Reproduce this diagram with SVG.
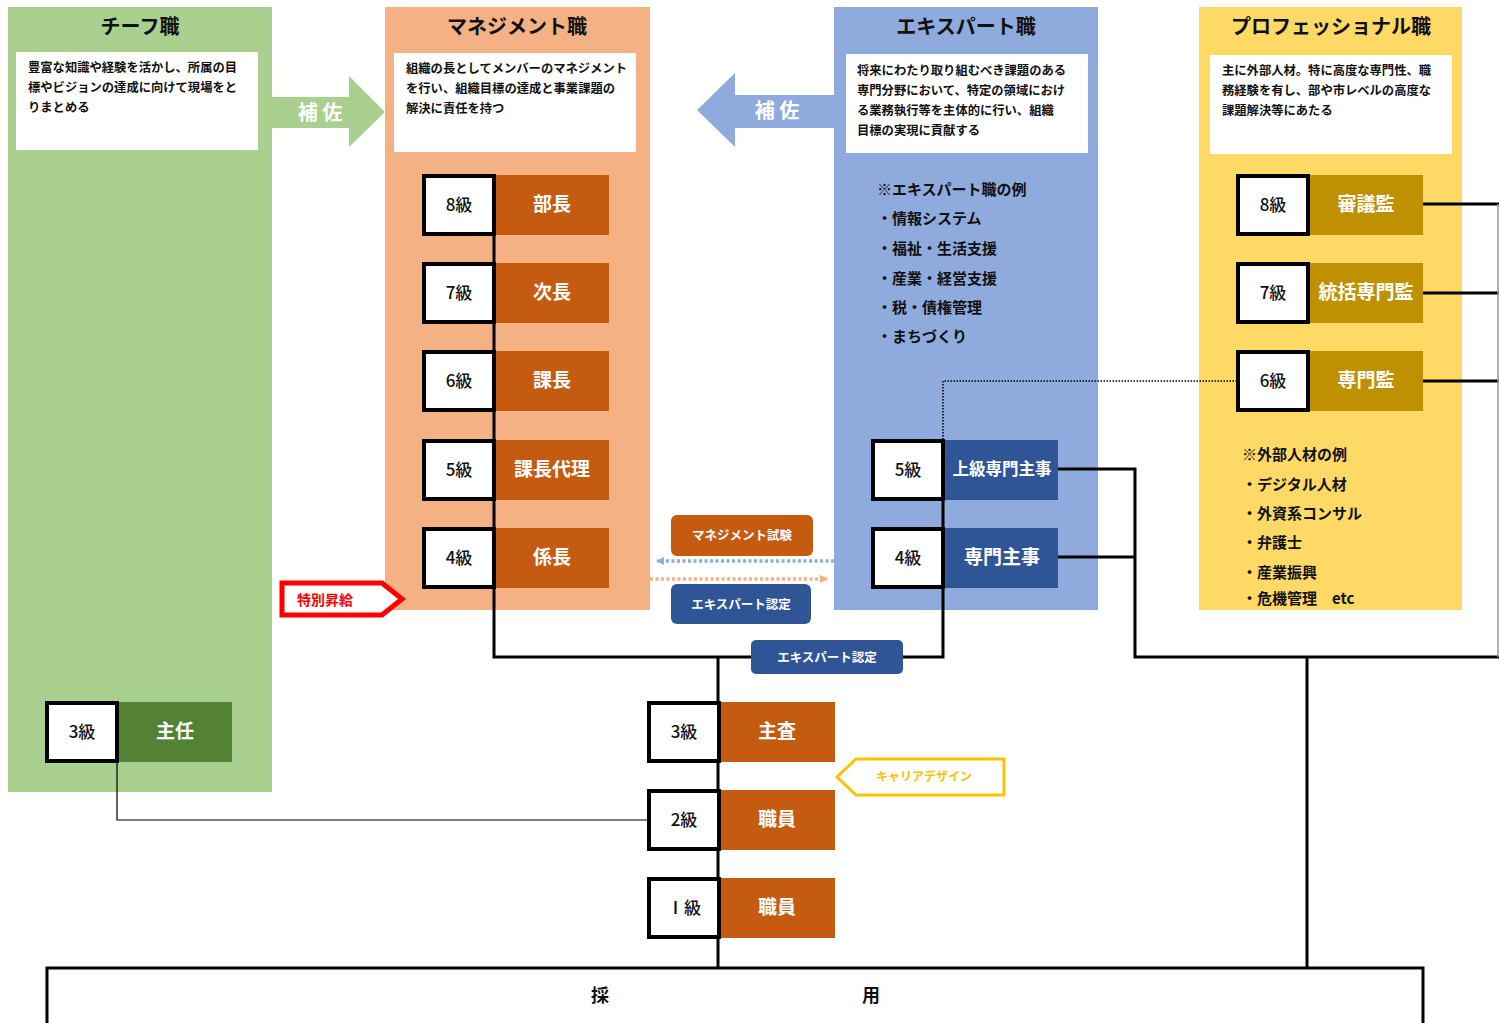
<svg xmlns="http://www.w3.org/2000/svg" width="1499" height="1023" viewBox="0 0 1499 1023">
<defs>
<style>
text{font-family:"Noto Sans CJK JP","Noto Sans",sans-serif;font-weight:bold}
.title{font-size:20px;fill:#111;text-anchor:middle}
.desc{font-size:12.3px;fill:#111}
.list{font-size:15px;fill:#111}
.lv{fill:#fff;stroke:#000;stroke-width:4}
.lvt{font-size:17px;fill:#111;text-anchor:middle;font-weight:500}
.rt{font-size:19px;fill:#fff;text-anchor:middle}
.ln{fill:none;stroke:#000;stroke-width:3}
.thin{fill:none;stroke:#000;stroke-width:1.2}
.tag{font-size:12.5px;fill:#fff;text-anchor:middle}
</style>
<marker id="arrB" markerWidth="8" markerHeight="8" refX="7" refY="4" orient="auto" markerUnits="userSpaceOnUse"><path d="M0,0 L8,4 L0,8 z" fill="#8faadc"/></marker>
<marker id="arrO" markerWidth="8" markerHeight="8" refX="7" refY="4" orient="auto" markerUnits="userSpaceOnUse"><path d="M0,0 L8,4 L0,8 z" fill="#f4b183"/></marker>
</defs>
<rect width="1499" height="1023" fill="#fff"/>

<g id="chief">
<rect x="8" y="7" width="264" height="785" fill="#a9d08e"/>
<text class="title" x="140" y="34">チーフ職</text>
<rect x="16" y="52" width="242" height="98" fill="#fff"/>
<text class="desc" x="28" y="72">豊富な知識や経験を活かし、所属の目</text>
<text class="desc" x="28" y="92">標やビジョンの達成に向けて現場をと</text>
<text class="desc" x="28" y="112">りまとめる</text>
</g>

<g id="management">
<rect x="385" y="7" width="265" height="603" fill="#f4b183"/>
<text class="title" x="517" y="34">マネジメント職</text>
<rect x="394" y="53" width="242" height="99" fill="#fff"/>
<text class="desc" x="406" y="73">組織の長としてメンバーのマネジメント</text>
<text class="desc" x="406" y="93">を行い、組織目標の達成と事業課題の</text>
<text class="desc" x="406" y="113">解決に責任を持つ</text>
</g>

<g id="expert">
<rect x="834" y="7" width="264" height="603" fill="#8faadc"/>
<text class="title" x="966" y="34">エキスパート職</text>
<rect x="846" y="54" width="242" height="99" fill="#fff"/>
<text class="desc" x="857" y="75">将来にわたり取り組むべき課題のある</text>
<text class="desc" x="857" y="95">専門分野において、特定の領域におけ</text>
<text class="desc" x="857" y="115">る業務執行等を主体的に行い、組織</text>
<text class="desc" x="857" y="135">目標の実現に貢献する</text>
<text class="list" x="877" y="195">※エキスパート職の例</text>
<text class="list" x="877" y="224">・情報システム</text>
<text class="list" x="877" y="254">・福祉・生活支援</text>
<text class="list" x="877" y="284">・産業・経営支援</text>
<text class="list" x="877" y="313">・税・債権管理</text>
<text class="list" x="877" y="342">・まちづくり</text>
</g>

<g id="professional">
<rect x="1199" y="7" width="263" height="603" fill="#ffd966"/>
<text class="title" x="1331" y="34">プロフェッショナル職</text>
<rect x="1210" y="55" width="242" height="99" fill="#fff"/>
<text class="desc" x="1222" y="75">主に外部人材。特に高度な専門性、職</text>
<text class="desc" x="1222" y="95">務経験を有し、部や市レベルの高度な</text>
<text class="desc" x="1222" y="115">課題解決等にあたる</text>
<text class="list" x="1242" y="460">※外部人材の例</text>
<text class="list" x="1242" y="490">・デジタル人材</text>
<text class="list" x="1242" y="519">・外資系コンサル</text>
<text class="list" x="1242" y="548">・弁護士</text>
<text class="list" x="1242" y="578">・産業振興</text>
<text class="list" x="1242" y="604">・危機管理　etc</text>
</g>

<g id="connectors">
<path d="M272,97 H349 V76 L385,112 L349,147 V128 H272 Z" fill="#a9d08e"/>
<text x="320" y="120" font-size="20" fill="#fff" text-anchor="middle">補 佐</text>
<path d="M834,95 H735 V73 L697,110 L735,147 V128 H834 Z" fill="#8faadc"/>
<text x="777" y="118" font-size="20" fill="#fff" text-anchor="middle">補 佐</text>
<path class="ln" d="M494,205 V657 H943 V470"/>
<path class="ln" d="M1058,469 H1135 V657 H1499"/>
<path class="ln" d="M1058,557 H1135"/>
<path class="ln" d="M1423,204 H1499 M1423,293 H1499 M1423,381 H1499"/>
<path d="M1498,204 V657" stroke="#999" stroke-width="1.5" fill="none"/>
<path class="ln" d="M1307,657 V967"/>
<path class="ln" d="M718,657 V967"/>
<path d="M1237,381 H943 V440" fill="none" stroke="#000" stroke-width="1.5" stroke-dasharray="1.5,1.5"/>
<path class="thin" d="M117,762 V820 H648"/>
<path d="M834,561 H657" fill="none" stroke="#8faadc" stroke-width="3.5" stroke-dasharray="3,2.5" marker-end="url(#arrB)"/>
<path d="M650,579 H827" fill="none" stroke="#f4b183" stroke-width="3.5" stroke-dasharray="3,2.5" marker-end="url(#arrO)"/>
<rect x="671" y="515" width="142" height="41" rx="6" fill="#c55a11"/>
<text class="tag" x="742" y="540">マネジメント試験</text>
<rect x="671" y="584" width="140" height="40" rx="6" fill="#2f5597"/>
<text class="tag" x="741" y="609">エキスパート認定</text>
<rect x="751" y="640" width="152" height="34" rx="5" fill="#2f5597"/>
<text class="tag" x="827" y="662">エキスパート認定</text>
<path d="M282,583 H382 L402,599 L382,615 H282 Z" fill="#fff" stroke="#ff0000" stroke-width="5"/>
<text x="325" y="605" font-size="14" fill="#ff0000" text-anchor="middle">特別昇給</text>
<path d="M1004,759 H856 L837,777 L856,795 H1004 Z" fill="#fff" stroke="#ffc000" stroke-width="3"/>
<text x="924" y="781" font-size="12" fill="#ffc000" text-anchor="middle">キャリアデザイン</text>
</g>

<g id="m8"><rect class="lv" x="424" y="176" width="70" height="58"/><text class="lvt" x="459" y="211">8級</text><rect x="496" y="175" width="113" height="60" fill="#c55a11"/><text class="rt" x="552" y="211">部長</text></g>
<g id="m7"><rect class="lv" x="424" y="264" width="70" height="58"/><text class="lvt" x="459" y="299">7級</text><rect x="496" y="263" width="113" height="60" fill="#c55a11"/><text class="rt" x="552" y="299">次長</text></g>
<g id="m6"><rect class="lv" x="424" y="352" width="70" height="58"/><text class="lvt" x="459" y="387">6級</text><rect x="496" y="351" width="113" height="60" fill="#c55a11"/><text class="rt" x="552" y="387">課長</text></g>
<g id="m5"><rect class="lv" x="424" y="441" width="70" height="58"/><text class="lvt" x="459" y="476">5級</text><rect x="496" y="440" width="113" height="60" fill="#c55a11"/><text class="rt" x="552" y="476">課長代理</text></g>
<g id="m4"><rect class="lv" x="424" y="529" width="70" height="58"/><text class="lvt" x="459" y="564">4級</text><rect x="496" y="528" width="113" height="60" fill="#c55a11"/><text class="rt" x="552" y="564">係長</text></g>

<g id="e5"><rect class="lv" x="873" y="441" width="70" height="58"/><text class="lvt" x="908" y="476">5級</text><rect x="945" y="440" width="113" height="60" fill="#2f5597"/><text class="rt" x="1002" y="475" style="font-size:16.5px">上級専門主事</text></g>
<g id="e4"><rect class="lv" x="873" y="529" width="70" height="58"/><text class="lvt" x="908" y="564">4級</text><rect x="945" y="528" width="113" height="60" fill="#2f5597"/><text class="rt" x="1002" y="564">専門主事</text></g>

<g id="p8"><rect class="lv" x="1238" y="176" width="70" height="58"/><text class="lvt" x="1273" y="211">8級</text><rect x="1310" y="175" width="113" height="60" fill="#bf9000"/><text class="rt" x="1366" y="211">審議監</text></g>
<g id="p7"><rect class="lv" x="1238" y="264" width="70" height="58"/><text class="lvt" x="1273" y="299">7級</text><rect x="1310" y="263" width="113" height="60" fill="#bf9000"/><text class="rt" x="1366" y="299">統括専門監</text></g>
<g id="p6"><rect class="lv" x="1238" y="352" width="70" height="58"/><text class="lvt" x="1273" y="387">6級</text><rect x="1310" y="351" width="113" height="60" fill="#bf9000"/><text class="rt" x="1366" y="387">専門監</text></g>

<g id="c3"><rect class="lv" x="47" y="703" width="70" height="58"/><text class="lvt" x="82" y="738">3級</text><rect x="119" y="702" width="113" height="60" fill="#548235"/><text class="rt" x="175" y="738">主任</text></g>

<g id="s3"><rect class="lv" x="649" y="703" width="70" height="58"/><text class="lvt" x="684" y="738">3級</text><rect x="721" y="702" width="114" height="60" fill="#c55a11"/><text class="rt" x="777" y="738">主査</text></g>
<g id="s2"><rect class="lv" x="649" y="791" width="70" height="58"/><text class="lvt" x="684" y="826">2級</text><rect x="721" y="790" width="114" height="60" fill="#c55a11"/><text class="rt" x="777" y="826">職員</text></g>
<g id="s1"><rect class="lv" x="649" y="879" width="70" height="58"/><text class="lvt" x="684" y="914">Ⅰ級</text><rect x="721" y="878" width="114" height="60" fill="#c55a11"/><text class="rt" x="777" y="914">職員</text></g>

<g id="hire">
<rect x="47" y="968" width="1376" height="70" fill="#fff" stroke="#000" stroke-width="3"/>
<text x="600" y="1002" font-size="18" fill="#111" text-anchor="middle">採</text>
<text x="871" y="1002" font-size="18" fill="#111" text-anchor="middle">用</text>
</g>
</svg>
